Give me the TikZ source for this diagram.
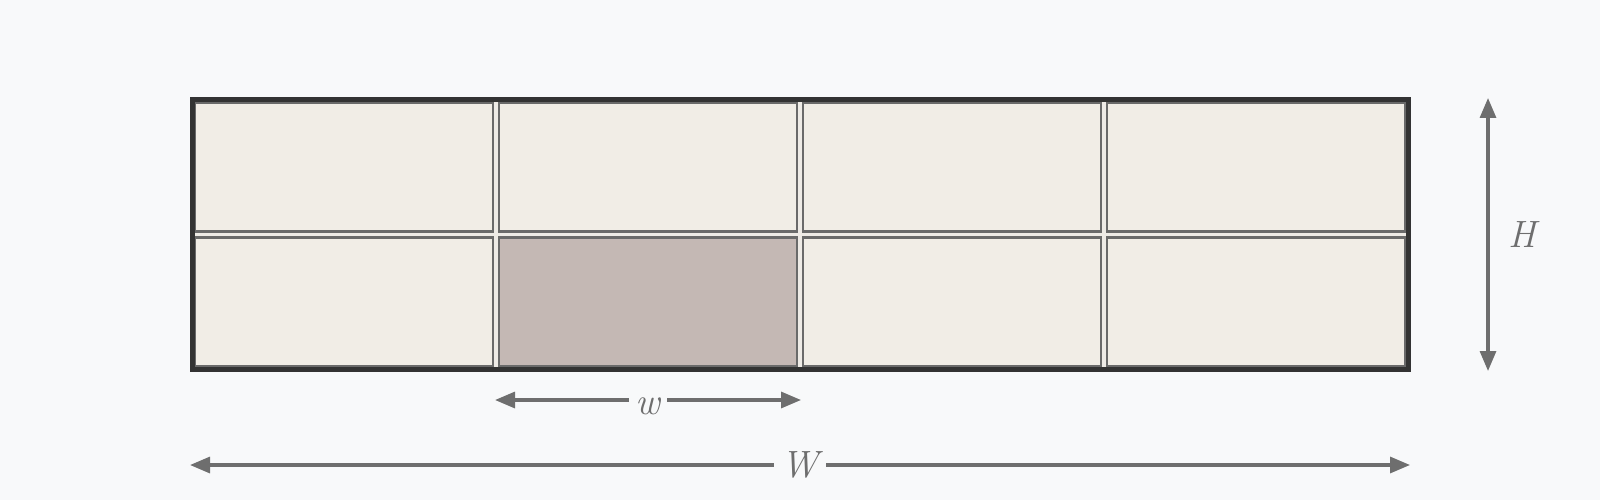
\documentclass[tikz,border=0pt]{standalone}
\usepackage{amsmath, amssymb}
\usepackage{tikz}
\usetikzlibrary{arrows.meta}

\definecolor{bgcol}{HTML}{F8F9FA}
\definecolor{cellfill}{HTML}{F1EDE6}
\definecolor{gapfill}{HTML}{EEEBE6}
\definecolor{cellhi}{HTML}{C4B8B4}
\definecolor{celledge}{HTML}{6A6A6A}
\definecolor{framecol}{HTML}{333333}
\definecolor{dimcol}{HTML}{6E6E6E}

\tikzset{
  cell/.style={draw=celledge, line width=2.5, fill=cellfill},
  frame/.style={draw=framecol, line width=5},
  dimline/.style={draw=dimcol, line width=3.2, {Triangle[length=20pt,width=16pt]}-{Triangle[length=20pt,width=16pt]}},
  dimfont/.style={text=dimcol, font=\fontsize{38}{40}\selectfont\itshape},
  dimlabel/.style={dimfont, fill=bgcol, inner sep=7pt}
}

\begin{document}
\begin{tikzpicture}[x=1pt,y=1pt,yscale=-1,xscale=1]

            % Background
            \fill[bgcol] (0,0) rectangle (1600,500);
            \useasboundingbox (0,0) rectangle (1600,500);

            % Cells
            \fill[gapfill] (192,99.5) rectangle (1408,369.5);
            \foreach \c in {0,...,3}
              \foreach \r in {0,1}
                \draw[cell] ({192+304*\c+3},{99.5+135*\r+3}) rectangle ({192+304*(\c+1)-3},{99.5+135*(\r+1)-3});
            \draw[cell, fill=cellhi] (499,237.5) rectangle (797,366.5);

            % Frame
            \draw[frame] (192,99.5) rectangle (1408,369.5);

            % Dimension ends
            \coordinate (wl) at (495,400);
            \coordinate (wr) at (801,400);
            \coordinate (Wl) at (190,465);
            \coordinate (Wr) at (1410,465);
            \coordinate (Ht) at (1488,98);
            \coordinate (Hb) at (1488,371);

            % Dimensions
            \draw[dimline] (wl) -- node[dimlabel, yshift=-6pt] (wlab) {w} (wr);
            \draw[dimline] (Wl) -- node[dimlabel] (Wlab) {W} (Wr);
            \draw[dimline] (Ht) -- (Hb);
            \draw (1522,235) node[dimfont, inner sep=0pt] (Hlab) {H};

\end{tikzpicture}
\end{document}
